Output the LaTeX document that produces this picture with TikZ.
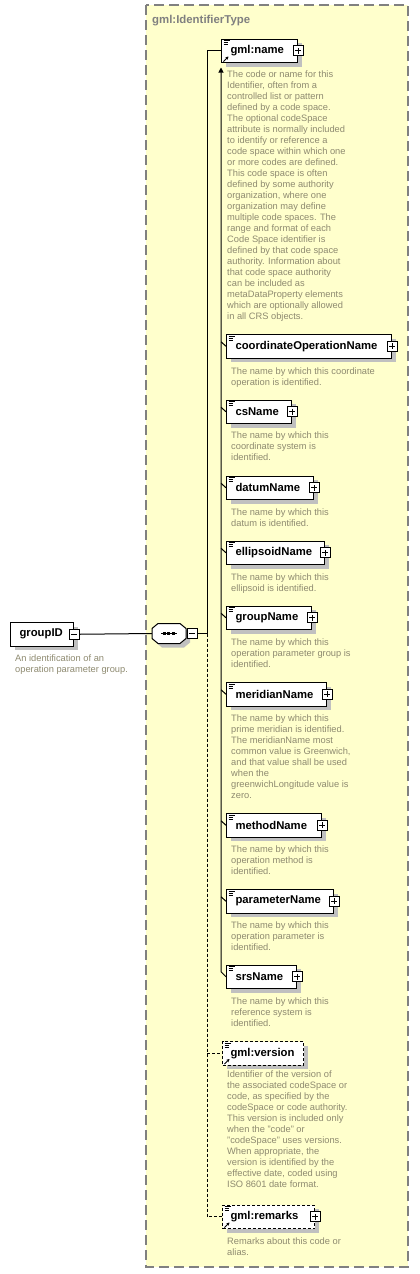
\documentclass[tikz,border=0pt]{standalone}
\usepackage{fontspec}
\setmainfont{Liberation Sans}
\usetikzlibrary{calc,arrows.meta}
\definecolor{bgyellow}{RGB}{255,255,204}
\definecolor{shadowgray}{RGB}{192,192,192}
\definecolor{desccol}{RGB}{142,138,112}
\definecolor{titlegray}{RGB}{128,128,128}
\newcommand\namefont{\bfseries\fontsize{11.3bp}{13bp}\selectfont}
\newcommand\descfont{\fontsize{9.3bp}{11bp}\selectfont}
\newcommand\titlefont{\bfseries\fontsize{11.4bp}{13bp}\selectfont}
\newcommand\docicon[1]{\draw[line width=0.8bp] ($(#1.north west)+(2.5,2)$) -- ++(6,0) ($(#1.north west)+(2.5,4)$) -- ++(4.5,0) ($(#1.north west)+(2.5,6)$) -- ++(4.5,0);}
\newcommand\refarrow[1]{\draw[line width=0.9bp,-{Stealth[length=3bp,width=3.2bp]}] ($(#1.south west)+(2.5,-1.5)$) -- ++(5,-5);}
\tikzset{
  elem/.style={draw=black, line width=1bp, fill=white, minimum height=23.5bp,
    inner xsep=0pt, inner ysep=0pt, anchor=north west, align=left, font=\namefont,
    preaction={fill=shadowgray, transform canvas={shift={(4bp,-4bp)}}}},
  optelem/.style={elem, dash pattern=on 3bp off 2bp},
  plusbox/.style={draw=black, fill=white, line width=0.8bp, minimum size=10bp, inner sep=0pt,
    path picture={\draw[line width=0.8bp] ([xshift=2bp]path picture bounding box.west) -- ([xshift=-2bp]path picture bounding box.east);
      \draw[line width=0.8bp] ([yshift=-2bp]path picture bounding box.north) -- ([yshift=2bp]path picture bounding box.south);}},
  minusbox/.style={draw=black, fill=white, line width=0.8bp, minimum size=10bp, inner sep=0pt,
    path picture={\draw[line width=0.8bp] ([xshift=2bp]path picture bounding box.west) -- ([xshift=-2bp]path picture bounding box.east);}},
  desc/.style={anchor=north west, inner sep=0pt, align=left, font=\descfont, text=desccol},
  conn/.style={line width=1bp, draw=black},
  optconn/.style={conn, dash pattern=on 3bp off 2bp},
}
\begin{document}
\begin{tikzpicture}[x=1bp,y=-1bp]
\useasboundingbox (0,0) rectangle (419,1274);
% frame
\draw[draw=titlegray, fill=bgyellow, dash pattern=on 10bp off 5bp, line width=1.2bp] (146,5) rectangle (408,1267);
\node[anchor=base west, inner sep=0pt, font=\titlefont, text=titlegray] (title) at (152,23.5) {gml:IdentifierType};

% groupID
\node[elem, text width=63bp] (gid) at (10,622) {\hspace*{9bp}groupID};
\node[minusbox] (gidm) at (gid.east) {};
\node[desc] (gidd) at (15,654.2) {An identification of an\\operation parameter group.};

% sequence
\node[minimum width=34bp, minimum height=20bp, inner sep=0pt] (seq) at (169,633.5) {};
\fill[shadowgray] (162,627.5) -- (184,627.5) -- (190,632.5) -- (190,642.5) -- (184,647.5) -- (162,647.5) -- (156,642.5) -- (156,632.5) -- cycle;
\filldraw[fill=white, draw=black, line width=1bp] (158,623.5) -- (180,623.5) -- (186,628.5) -- (186,638.5) -- (180,643.5) -- (158,643.5) -- (152,638.5) -- (152,628.5) -- cycle;
\draw[line width=1bp] (161,633.5) -- (177,633.5);
\foreach \dx in {164.5,168.8,173.1} \fill (\dx-1.4,632.1) rectangle (\dx+1.4,634.9);
\node[minusbox, anchor=west] (seqm) at ($(seq.east)+(0.7,0)$) {};
\coordinate (bus) at (207,633.5);

% elements
\node[elem, text width=76bp] (name) at (221,38.5) {\hspace*{9bp}gml:name};
\node[plusbox] (namep) at (name.east) {};
\docicon{name}\refarrow{name}
\node[desc] (named) at (227,70.2) {The code or name for this\\Identifier, often from a\\controlled list or pattern\\defined by a code space.\\The optional codeSpace\\attribute is normally included\\to identify or reference a\\code space within which one\\or more codes are defined.\\This code space is often\\defined by some authority\\organization, where one\\organization may define\\multiple code spaces. The\\range and format of each\\Code Space identifier is\\defined by that code space\\authority. Information about\\that code space authority\\can be included as\\metaDataProperty elements\\which are optionally allowed\\in all CRS objects.};

\node[elem, text width=165bp] (coord) at (226,334) {\hspace*{9bp}coordinateOperationName};
\node[plusbox] (coordp) at (coord.east) {};
\docicon{coord}
\node[desc] (coordd) at (231,367.2) {The name by which this coordinate\\operation is identified.};

\node[elem, text width=65bp] (csn) at (226,399.5) {\hspace*{9bp}csName};
\node[plusbox] (csnp) at (csn.east) {};
\docicon{csn}
\node[desc] (csnd) at (231,431.2) {The name by which this\\coordinate system is\\identified.};

\node[elem, text width=87bp] (datum) at (226,475.5) {\hspace*{9bp}datumName};
\node[plusbox] (datump) at (datum.east) {};
\docicon{datum}
\node[desc] (datumd) at (231,508.2) {The name by which this\\datum is identified.};

\node[elem, text width=98bp] (ellip) at (226,540.5) {\hspace*{9bp}ellipsoidName};
\node[plusbox] (ellipp) at (ellip.east) {};
\docicon{ellip}
\node[desc] (ellipd) at (231,573.2) {The name by which this\\ellipsoid is identified.};

\node[elem, text width=85bp] (group) at (226,605.5) {\hspace*{9bp}groupName};
\node[plusbox] (groupp) at (group.east) {};
\docicon{group}
\node[desc] (groupd) at (231,638.2) {The name by which this\\operation parameter group is\\identified.};

\node[elem, text width=100bp] (merid) at (226,682) {\hspace*{9bp}meridianName};
\node[plusbox] (meridp) at (merid.east) {};
\docicon{merid}
\node[desc] (meridd) at (231,714.2) {The name by which this\\prime meridian is identified.\\The meridianName most\\common value is Greenwich,\\and that value shall be used\\when the\\greenwichLongitude value is\\zero.};

\node[elem, text width=95bp] (method) at (226,813) {\hspace*{9bp}methodName};
\node[plusbox] (methodp) at (method.east) {};
\docicon{method}
\node[desc] (methodd) at (231,845.2) {The name by which this\\operation method is\\identified.};

\node[elem, text width=107bp] (param) at (226,889) {\hspace*{9bp}parameterName};
\node[plusbox] (paramp) at (param.east) {};
\docicon{param}
\node[desc] (paramd) at (231,921.2) {The name by which this\\operation parameter is\\identified.};

\node[elem, text width=70bp] (srs) at (226,964.5) {\hspace*{9bp}srsName};
\node[plusbox] (srsp) at (srs.east) {};
\docicon{srs}
\node[desc] (srsd) at (231,997.2) {The name by which this\\reference system is\\identified.};

\node[optelem, text width=81bp] (version) at (222,1041) {\hspace*{8bp}gml:version};
\docicon{version}\refarrow{version}
\node[desc] (versiond) at (227,1070.2) {Identifier of the version of\\the associated codeSpace or\\code, as specified by the\\codeSpace or code authority.\\This version is included only\\when the "code" or\\"codeSpace" uses versions.\\When appropriate, the\\version is identified by the\\effective date, coded using\\ISO 8601 date format.};

\node[optelem, text width=92bp] (remarks) at (222,1204.5) {\hspace*{8bp}gml:remarks};
\node[plusbox] (remarksp) at (remarks.east) {};
\docicon{remarks}\refarrow{remarks}
\node[desc] (remarksd) at (227,1237.2) {Remarks about this code or\\alias.};

% connectors
\draw[conn] (gidm.east) -- (seq.west);
\draw[conn] (seqm.east) -- (bus);
\draw[conn] (bus) |- (name.west);
\draw[optconn] (bus) |- (version.west);
\draw[optconn] (bus) |- (remarks.west);
% substitution group
\draw[conn, {Triangle[length=5bp,width=5bp]}-] ($(name.south west)+(0,4.5)$) -- ($(srs.west)+(-5,-5)$) -- (srs.west);
\foreach \e in {coord,csn,datum,ellip,group,merid,method,param}
  \draw[conn] ($(\e.west)+(-5,-4.5)$) -- (\e.west);
\end{tikzpicture}
\end{document}
